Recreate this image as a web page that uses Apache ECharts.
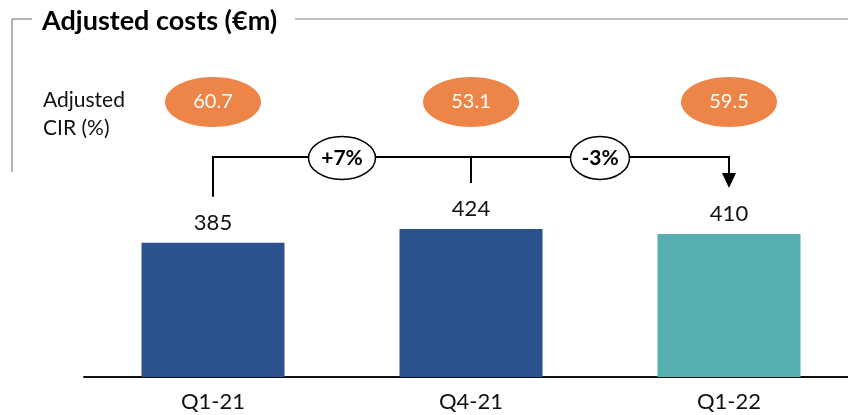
<!DOCTYPE html>
<html>
<head>
<meta charset="utf-8">
<script src="https://cdn.jsdelivr.net/npm/echarts@6/dist/echarts.min.js"></script>
<style>html,body{margin:0;padding:0;background:#fff}#c{width:848px;height:415px}</style>
</head>
<body>
<div id="c"></div>
<script>
const categories = ['Q1-21', 'Q4-21', 'Q1-22'];
const costs = [385, 424, 410];
const cirValues = ['60.7', '53.1', '59.5'];
const changes = ['+7%', '-3%'];
const titleText = 'Adjusted costs (€m)';
const cirLabel = 'Adjusted\nCIR (%)';

const FONT = 'Lato';
const BLUE = '#2C528E';
const TEAL = '#58AFB0';
const ORANGE = '#ED8549';

const chart = echarts.init(document.getElementById('c'), null, {renderer: 'canvas'});

chart.setOption({
  animation: false,
  backgroundColor: '#fff',
  grid: {left: 84, width: 774, bottom: 38, top: 202.5, containLabel: false, outerBoundsMode: 'none'},
  xAxis: {
    type: 'category',
    data: categories,
    axisLine: {show: true, lineStyle: {color: '#111', width: 2}},
    axisTick: {show: false},
    axisLabel: {fontFamily: FONT, fontSize: 22, color: '#111', margin: 14}
  },
  yAxis: {type: 'value', min: 0, max: 500, show: false, splitLine: {show: false}},
  series: [{
    type: 'bar',
    data: costs.map((v, i) => ({value: v, itemStyle: {color: i === costs.length - 1 ? TEAL : BLUE}})),
    barWidth: 143,
    label: {show: true, position: 'top', distance: 9, fontFamily: FONT, fontSize: 22, color: '#111'}
  }]
});

function draw() {
  const xs = categories.map(c => chart.convertToPixel({xAxisIndex: 0}, c));
  const ys = costs.map(v => chart.convertToPixel({yAxisIndex: 0}, v));
  const bracketY = 157;
  const ellY = 102;
  const els = [];
  // frame
  els.push({type: 'line', shape: {x1: 12, y1: 19, x2: 32, y2: 19}, style: {stroke: '#808080', lineWidth: 1.2}});
  els.push({type: 'line', shape: {x1: 295, y1: 19, x2: 848, y2: 19}, style: {stroke: '#808080', lineWidth: 1.2}});
  els.push({type: 'line', shape: {x1: 12, y1: 19, x2: 12, y2: 172}, style: {stroke: '#808080', lineWidth: 1.2}});
  els.push({type: 'text', x: 42, y: 21, style: {text: titleText, fontFamily: FONT, fontWeight: 'bold', fontSize: 27, fill: '#000', verticalAlign: 'middle'}});
  els.push({type: 'text', x: 43, y: 114, style: {text: cirLabel, fontFamily: FONT, fontSize: 21, lineHeight: 28, fill: '#111', verticalAlign: 'middle'}});
  // CIR ellipses
  xs.forEach((x, i) => {
    els.push({type: 'ellipse', shape: {cx: x, cy: ellY, rx: 48, ry: 25}, style: {fill: ORANGE}});
    els.push({type: 'text', x: x, y: ellY, style: {text: cirValues[i], fontFamily: FONT, fontSize: 20, fill: '#fff', align: 'center', verticalAlign: 'middle'}});
  });
  // bracket
  const ends = ys.map(y => y - 46);
  els.push({type: 'polyline', shape: {points: [[xs[0], ends[0]], [xs[0], bracketY], [xs[2], bracketY], [xs[2], ends[2] - 14]]}, style: {stroke: '#000', lineWidth: 2, fill: null}});
  els.push({type: 'line', shape: {x1: xs[1], y1: bracketY, x2: xs[1], y2: ends[1]}, style: {stroke: '#000', lineWidth: 2}});
  els.push({type: 'polygon', shape: {points: [[xs[2] - 7, ends[2] - 15], [xs[2] + 7, ends[2] - 15], [xs[2], ends[2]]]}, style: {fill: '#000'}});
  // change ellipses
  const rxs = [33.5, 29.5];
  changes.forEach((t, i) => {
    const cx = (xs[i] + xs[i + 1]) / 2;
    els.push({type: 'ellipse', shape: {cx: cx, cy: bracketY + 1, rx: rxs[i], ry: 21.5}, style: {fill: '#fff', stroke: '#000', lineWidth: 1.5}});
    els.push({type: 'text', x: cx, y: bracketY + 1, style: {text: t, fontFamily: FONT, fontWeight: 'bold', fontSize: 21, fill: '#000', align: 'center', verticalAlign: 'middle'}});
  });
  chart.setOption({graphic: {elements: els}});
}
draw();
</script>
</body>
</html>
